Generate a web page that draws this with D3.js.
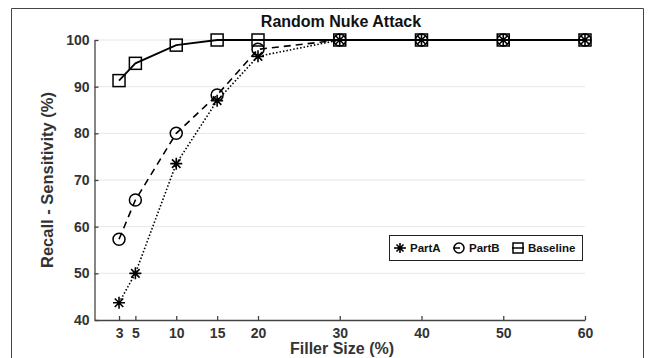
<!DOCTYPE html>
<html>
<head>
<meta charset="utf-8">
<script src="https://cdn.jsdelivr.net/npm/d3@7"></script>
<style>
	body { margin: 0; background: #fff; }
	svg text { font-family: "Liberation Sans", Arial, sans-serif; font-weight: bold; }
</style>
</head>
<body>
<div id="chart"></div>
<script>
const fillerSizes = [3, 5, 10, 15, 20, 30, 40, 50, 60];
const partA = [43.7, 50, 73.5, 87, 96.5, 100, 100, 100, 100];
const partB = [57.3, 65.7, 80, 88.2, 98, 100, 100, 100, 100];
const baseline = [91.3, 95, 98.9, 100, 100, 100, 100, 100, 100];
const yTicks = [40, 50, 60, 70, 80, 90, 100];

const seriesList = [
	{ name: "PartA", values: partA, dash: "1.5,2", marker: "star" },
	{ name: "PartB", values: partB, dash: "7,5", marker: "circle" },
	{ name: "Baseline", values: baseline, dash: null, marker: "square" },
];

const width = 650;
const height = 358;
const margin = { top: 40, right: 65, bottom: 38, left: 94.5 };

const svg = d3.select("#chart").append("svg").attr("width", width).attr("height", height);

// outer frame
svg.append("path")
	.attr("d", `M11.5,${height} V8.5 H643.5 V${height}`)
	.attr("fill", "none")
	.attr("stroke", "#444")
	.attr("stroke-width", 1);

const x = d3.scaleLinear().domain([0, 60]).range([margin.left, width - margin.right]);
const y = d3.scaleLinear().domain([40, 100]).range([height - margin.bottom, margin.top]);

// grid
svg.append("g")
	.selectAll("line")
	.data(yTicks.filter((d) => d > 40))
	.join("line")
	.attr("x1", x(0))
	.attr("x2", x(60))
	.attr("y1", (d) => y(d))
	.attr("y2", (d) => y(d))
	.attr("stroke", "#e6e6e6")
	.attr("stroke-width", 1);

const xAxis = svg.append("g")
	.attr("transform", `translate(0,${y(40)})`)
	.call(d3.axisBottom(x).tickValues(fillerSizes).tickSize(-4).tickSizeOuter(0).tickPadding(8));

const yAxis = svg.append("g")
	.attr("transform", `translate(${x(0)},0)`)
	.call(d3.axisLeft(y).tickValues(yTicks).tickSize(-4).tickSizeOuter(0).tickPadding(5));

[xAxis, yAxis].forEach((a) => {
	a.select(".domain").attr("stroke", "#444").attr("stroke-width", 1.3);
	a.selectAll(".tick line").attr("stroke", "#444").attr("stroke-width", 1.3);
	a.selectAll(".tick text").attr("fill", "#333").style("font-size", "14px");
});

// title and labels
svg.append("text")
	.attr("x", 341)
	.attr("y", 27)
	.attr("text-anchor", "middle")
	.style("font-size", "16px")
	.attr("fill", "#111")
	.text("Random Nuke Attack");

svg.append("text")
	.attr("x", 342)
	.attr("y", 354)
	.attr("text-anchor", "middle")
	.style("font-size", "16px")
	.attr("fill", "#333")
	.text("Filler Size (%)");

svg.append("text")
	.attr("transform", `translate(53,${y(70)}) rotate(-90)`)
	.attr("text-anchor", "middle")
	.style("font-size", "16.5px")
	.attr("fill", "#333")
	.text("Recall - Sensitivity (%)");

function drawMarker(sel, type, size) {
	const h = size / 2;
	if (type === "square") {
		sel.append("rect").attr("x", -h).attr("y", -h).attr("width", size).attr("height", size)
			.attr("fill", "none").attr("stroke", "#000").attr("stroke-width", 1.5);
	} else if (type === "circle") {
		sel.append("circle").attr("r", h).attr("fill", "none").attr("stroke", "#000").attr("stroke-width", 1.5);
	} else {
		const d = [0, 45, 90, 135].map((a) => {
			const r = (a * Math.PI) / 180;
			return `M${-h * Math.cos(r)},${-h * Math.sin(r)}L${h * Math.cos(r)},${h * Math.sin(r)}`;
		}).join("");
		sel.append("path").attr("d", d).attr("stroke", "#000").attr("stroke-width", 1.6);
	}
}

const line = d3.line().x((d) => x(d[0])).y((d) => y(d[1]));

seriesList.forEach((s) => {
	const pts = fillerSizes.map((f, i) => [f, s.values[i]]);
	svg.append("path")
		.datum(pts)
		.attr("d", line)
		.attr("fill", "none")
		.attr("stroke", "#000")
		.attr("stroke-width", s.dash ? 1.6 : 1.8)
		.attr("stroke-dasharray", s.dash);
	svg.append("g")
		.selectAll("g")
		.data(pts)
		.join("g")
		.attr("transform", (d) => `translate(${x(d[0])},${y(d[1])})`)
		.each(function () {
			drawMarker(d3.select(this), s.marker, 12);
		});
});

// legend
const legend = svg.append("g");
legend.append("rect")
	.attr("x", 389.5)
	.attr("y", 235.5)
	.attr("width", 193)
	.attr("height", 25)
	.attr("fill", "#fff")
	.attr("stroke", "#222")
	.attr("stroke-width", 1);

const legendX = [400, 459, 518];
seriesList.forEach((s, i) => {
	const g = legend.append("g").attr("transform", `translate(${legendX[i]},248)`);
	g.append("line").attr("x1", -6).attr("x2", 6).attr("stroke", "#000").attr("stroke-width", 1.5)
		.attr("stroke-dasharray", s.dash);
	drawMarker(g, s.marker, 10);
	g.append("text")
		.attr("x", 10)
		.attr("dy", "0.35em")
		.style("font-size", "11.5px")
		.attr("fill", "#111")
		.text(s.name);
});
</script>
</body>
</html>
